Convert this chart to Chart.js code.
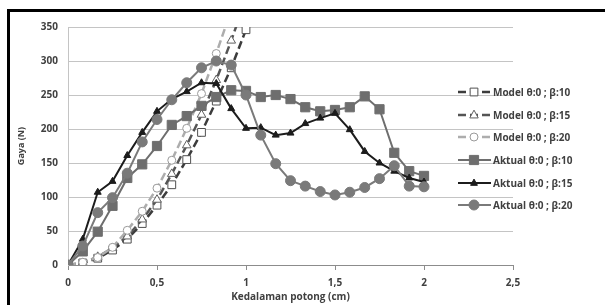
<!DOCTYPE html>
<html>
<head>
<meta charset="utf-8">
<script src="https://cdn.jsdelivr.net/npm/chart.js@4.4.1/dist/chart.umd.min.js"></script>
<style>
  html, body { margin: 0; padding: 0; background: #fff; }
  #wrap { width: 605px; height: 305px; }
</style>
</head>
<body>
<div id="wrap"><canvas id="myChart" width="605" height="305"></canvas></div>
<script>
// depth (cm) for each measured point
const depthAktual = [0, 0.083, 0.167, 0.25, 0.333, 0.417, 0.5, 0.583, 0.667, 0.75, 0.833, 0.917,
  1, 1.083, 1.167, 1.25, 1.333, 1.417, 1.5, 1.583, 1.667, 1.75, 1.833, 1.917, 2];
const depthModel = [0, 0.083, 0.167, 0.25, 0.333, 0.417, 0.5, 0.583, 0.667, 0.75, 0.833, 0.917, 1];

// force values (N)
const model10 = [0, 3, 10, 22, 38, 61, 88, 118, 155, 195, 241, 290, 346];
const model15 = [0, 3, 12, 25, 42, 67, 96, 134, 176, 221, 272, 330, 392];
const model20 = [0, 4, 11, 26, 51, 79, 113, 154, 201, 252, 311, 375, 445];
const aktual10 = [0, 20, 49, 87, 128, 148, 175, 206, 219, 234, 247, 257, 256, 247, 250, 244, 232, 226, 228, 232, 248, 229, 165, 138, 131];
const aktual15 = [0, 38, 107, 123, 161, 195, 226, 244, 255, 268, 267, 230, 201, 202, 191, 194, 208, 216, 223, 199, 167, 150, 138, 128, 122];
const aktual20 = [0, 28, 77, 99, 135, 181, 214, 243, 268, 290, 300, 294, 250, 191, 149, 124, 116, 108, 103, 107, 114, 127, 146, 116, 115];

const seriesNames = ['Model θ:0 ; β:10', 'Model θ:0 ; β:15', 'Model θ:0 ; β:20',
  'Aktual θ:0 ; β:10', 'Aktual θ:0 ; β:15', 'Aktual θ:0 ; β:20'];
const xTickLabels = ['0', '0,5', '1', '1,5', '2', '2,5'];

const textColor = '#404040';
const fontFamily = "'Open Sans', 'Liberation Sans', sans-serif";

function toPoints(xs, ys) {
  return ys.map((y, i) => ({ x: xs[i], y: y }));
}

// frame around the picture (top and left edge only)
const framePlugin = {
  id: 'frame',
  beforeDraw(chart) {
    const c = chart.ctx;
    c.save();
    c.fillStyle = '#fff';
    c.fillRect(0, 0, chart.width, chart.height);
    c.fillStyle = '#000';
    c.fillRect(7, 9, chart.width - 7, 3);
    c.fillRect(7, 9, 3, chart.height - 9);
    c.restore();
  }
};

function drawMarker(c, style, x, y, r) {
  c.beginPath();
  if (style === 'rect') {
    const s = Math.SQRT1_2 * r;
    c.rect(x - s, y - s, 2 * s, 2 * s);
  } else if (style === 'triangle') {
    const h = r * 1.3;
    c.moveTo(x, y - h * 0.75);
    c.lineTo(x + h * 0.65, y + h * 0.45);
    c.lineTo(x - h * 0.65, y + h * 0.45);
    c.closePath();
  } else {
    c.arc(x, y, r, 0, Math.PI * 2);
  }
  c.fill();
  c.stroke();
}

// legend on the right, line + marker like the spreadsheet one
const legendPlugin = {
  id: 'sideLegend',
  afterDraw(chart) {
    const c = chart.ctx;
    const rowsY = [92, 115, 137, 160, 183, 205];
    chart.data.datasets.forEach((ds, i) => {
      const y = rowsY[i];
      c.save();
      c.strokeStyle = ds.borderColor;
      c.lineWidth = ds.borderWidth;
      c.setLineDash(ds.borderDash || []);
      c.beginPath();
      c.moveTo(458, y);
      c.lineTo(491, y);
      c.stroke();
      c.setLineDash([]);
      c.fillStyle = ds.pointBackgroundColor;
      c.strokeStyle = ds.pointBorderColor;
      c.lineWidth = 1;
      drawMarker(c, ds.pointStyle, 474, y, ds.pointRadius);
      c.fillStyle = textColor;
      c.font = 'bold 10px ' + fontFamily;
      c.textBaseline = 'middle';
      c.fillText(seriesNames[i], 493, y + 1);
      c.restore();
    });
  }
};

const ctx = document.getElementById('myChart');

const myChart = new Chart(ctx, {
  type: 'line',
  data: {
    datasets: [
      {
        label: seriesNames[0], data: toPoints(depthModel, model10), order: 5,
        borderColor: '#3c3c3c', borderWidth: 2.5, borderDash: [8, 4],
        pointStyle: 'rect', pointRadius: 5.5, pointBackgroundColor: '#fff', pointBorderColor: '#505050', pointBorderWidth: 1
      },
      {
        label: seriesNames[1], data: toPoints(depthModel, model15), order: 4,
        borderColor: '#555555', borderWidth: 2.5, borderDash: [8, 4],
        pointStyle: 'triangle', pointRadius: 5, pointBackgroundColor: '#fff', pointBorderColor: '#606060', pointBorderWidth: 1
      },
      {
        label: seriesNames[2], data: toPoints(depthModel, model20), order: 3,
        borderColor: '#adadad', borderWidth: 2.5, borderDash: [8, 4],
        pointStyle: 'circle', pointRadius: 4, pointBackgroundColor: '#fff', pointBorderColor: '#9a9a9a', pointBorderWidth: 1
      },
      {
        label: seriesNames[3], data: toPoints(depthAktual, aktual10), order: 2,
        borderColor: '#6e6e6e', borderWidth: 2,
        pointStyle: 'rect', pointRadius: 6.5, pointBackgroundColor: '#6e6e6e', pointBorderColor: '#6e6e6e', pointBorderWidth: 1
      },
      {
        label: seriesNames[4], data: toPoints(depthAktual, aktual15), order: 1,
        borderColor: '#1c1c1c', borderWidth: 2,
        pointStyle: 'triangle', pointRadius: 4, pointBackgroundColor: '#1c1c1c', pointBorderColor: '#1c1c1c', pointBorderWidth: 1
      },
      {
        label: seriesNames[5], data: toPoints(depthAktual, aktual20), order: 0,
        borderColor: '#7a7a7a', borderWidth: 2,
        pointStyle: 'circle', pointRadius: 5, pointBackgroundColor: '#7a7a7a', pointBorderColor: '#7a7a7a', pointBorderWidth: 1
      }
    ]
  },
  options: {
    responsive: false,
    maintainAspectRatio: false,
    animation: false,
    layout: { padding: { left: 10, right: 92, top: 27, bottom: 0 } },
    elements: { line: { tension: 0 } },
    plugins: {
      legend: { display: false },
      tooltip: { enabled: false }
    },
    scales: {
      x: {
        type: 'linear',
        min: 0,
        max: 2.5,
        afterFit(scale) { scale.height = 40; },
        grid: { drawOnChartArea: false, drawTicks: true, tickLength: 5, color: '#8c8c8c' },
        border: { display: true, color: '#8c8c8c', width: 1 },
        ticks: {
          stepSize: 0.5,
          padding: 7,
          color: textColor,
          font: { family: fontFamily, size: 10, weight: 'bold' },
          maxRotation: 0,
          callback: (v) => xTickLabels[Math.round(v / 0.5)]
        },
        title: {
          display: true,
          text: 'Kedalaman potong (cm)',
          color: textColor,
          font: { family: fontFamily, size: 10, weight: 'bold' },
          padding: { top: 0, bottom: 2 }
        }
      },
      y: {
        min: 0,
        max: 350,
        afterFit(scale) { scale.width = 58; },
        grid: { color: '#c4c4c4', lineWidth: 1, drawTicks: false },
        border: { display: true, color: '#c4c4c4', width: 1 },
        ticks: {
          stepSize: 50,
          padding: 10,
          color: textColor,
          font: { family: fontFamily, size: 10, weight: 'bold' }
        },
        title: {
          display: true,
          text: 'Gaya (N)',
          color: textColor,
          font: { family: fontFamily, size: 9, weight: 'bold' },
          padding: { top: 6, bottom: 0 }
        }
      }
    }
  },
  plugins: [framePlugin, legendPlugin]
});
</script>
</body>
</html>
